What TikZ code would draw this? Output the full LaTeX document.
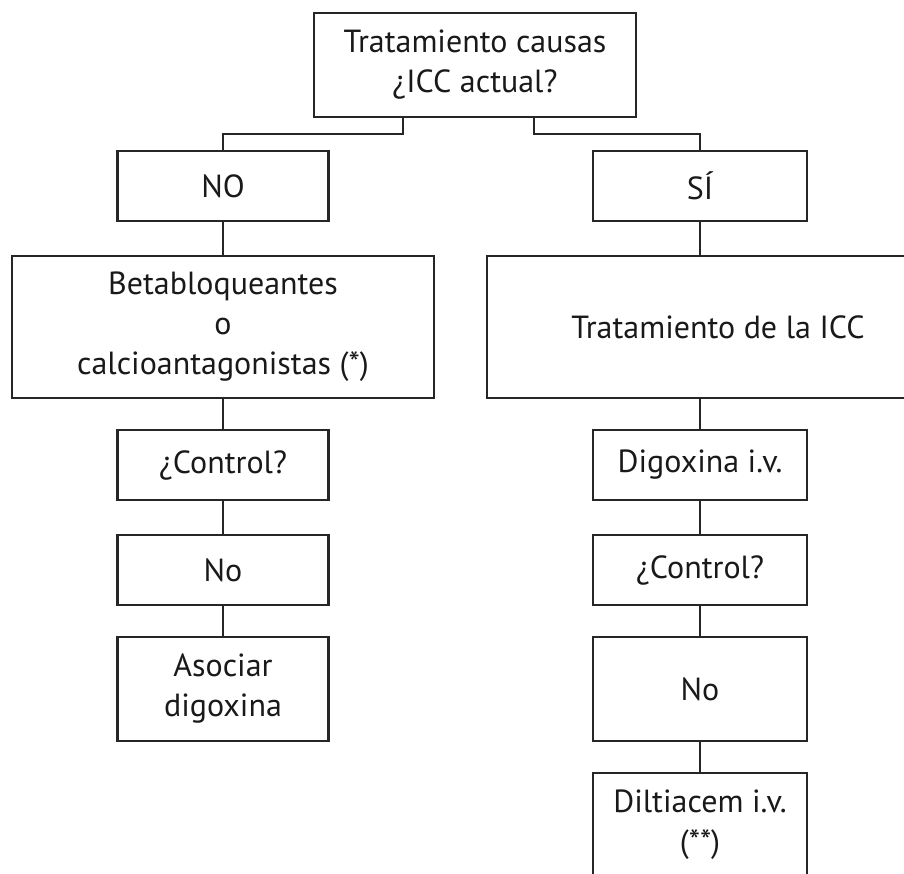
\documentclass[tikz,border=0pt]{standalone}
\usepackage{fontspec}
\setmainfont{PT Sans}
\begin{document}
\begin{tikzpicture}[x={(1pt,0)}, y={(0,-1pt)},
  box/.style={draw=black!85, line width=2.6pt, outer sep=0pt, inner sep=0pt,
    align=center, text=black!90,
    font=\fontsize{32}{40}\selectfont},
  link/.style={draw=black!85, line width=2.6pt, line cap=rect}]
\useasboundingbox (0,0) rectangle (904,873);
\clip (0,0) rectangle (904,873);

% top question
\node[box, minimum width=322pt, minimum height=104pt] (top) at (475,65)
  {Tratamiento causas\\¿ICC actual?};

% left branch
\node[box, minimum width=211pt, minimum height=70pt] (no) at (223,186) {NO};
\node[box, minimum width=422pt, minimum height=142pt] (beta) at (223,327)
  {Betabloqueantes\\o\\calcioantagonistas (*)};
\node[box, minimum width=211pt, minimum height=70pt] (ctlL) at (223,465) {¿Control?};
\node[box, minimum width=211pt, minimum height=70pt] (noL) at (223,570) {No};
\node[box, minimum width=211pt, minimum height=104pt] (asoc) at (223,689)
  {Asociar\\digoxina};

% right branch
\node[box, minimum width=214pt, minimum height=70pt] (si) at (700,186) {SÍ};
\node[box, minimum width=426pt, minimum height=142pt] (icc) at (700,327)
  {\hspace*{36pt}Tratamiento de la ICC};
\node[box, minimum width=214pt, minimum height=70pt] (digo) at (700,465) {Digoxina i.v.};
\node[box, minimum width=214pt, minimum height=70pt] (ctlR) at (700,570) {¿Control?};
\node[box, minimum width=214pt, minimum height=104pt] (noR) at (700,689) {No};
\node[box, minimum width=214pt, minimum height=104pt] (dilt) at (700,825)
  {Diltiacem i.v.\\(**)};

% connectors
\draw[link] ([xshift=-72pt]top.south) -- ++(0,17) -| (no.north);
\draw[link] ([xshift=59pt]top.south) -- ++(0,17) -| (si.north);
\draw[link] (no) -- (beta);
\draw[link] (beta) -- (ctlL);
\draw[link] (ctlL) -- (noL);
\draw[link] (noL) -- (asoc);
\draw[link] (si) -- (icc);
\draw[link] (icc) -- (digo);
\draw[link] (digo) -- (ctlR);
\draw[link] (ctlR) -- (noR);
\draw[link] (noR) -- (dilt);
\end{tikzpicture}
\end{document}
